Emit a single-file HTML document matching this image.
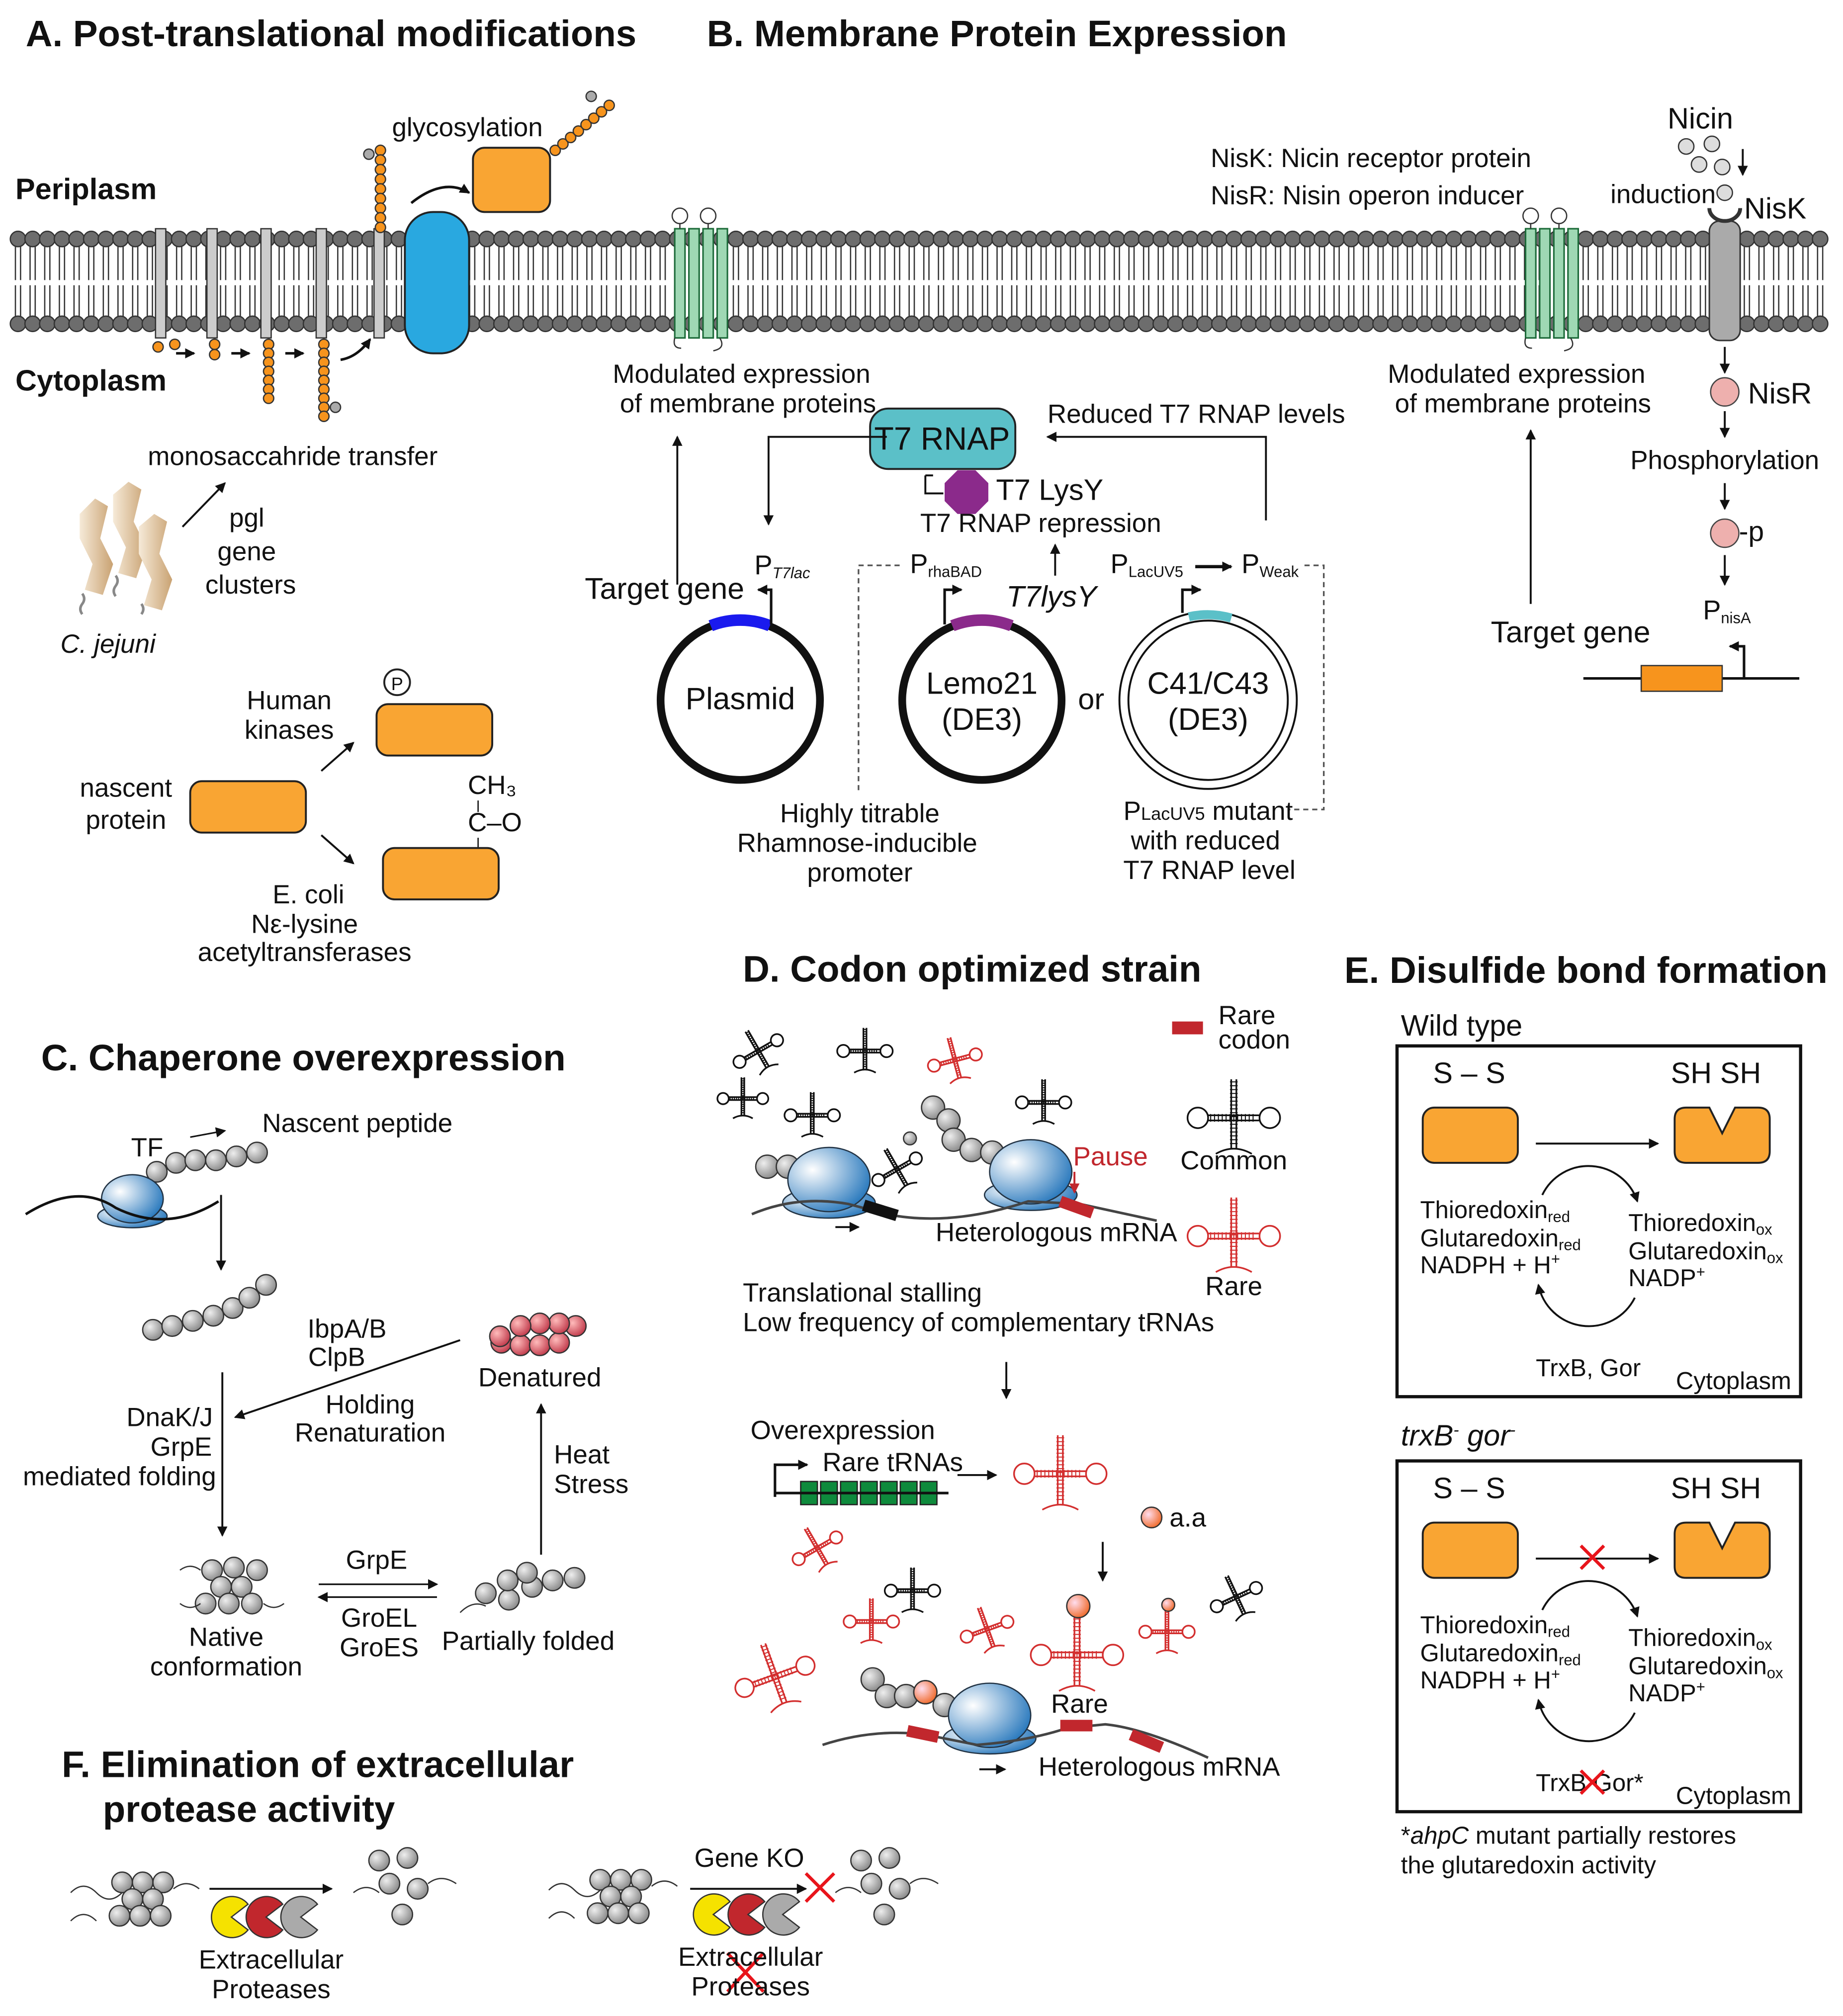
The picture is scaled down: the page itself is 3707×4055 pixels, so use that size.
<!DOCTYPE html>
<html><head><meta charset="utf-8"><style>
html,body{margin:0;padding:0;background:#fff}
svg{display:block}
text{font-family:"Liberation Sans",sans-serif;font-size:20.5px;fill:#111}
.t{font-size:28.8px;font-weight:bold}
.b{font-weight:bold;font-size:23px}
.c{text-anchor:middle}
.sm{font-size:12px}
</style></head><body>
<svg id="s" width="3707" height="4055" viewBox="0 0 1434 1569" preserveAspectRatio="none" xmlns="http://www.w3.org/2000/svg">
<defs>
<marker id="ah" markerWidth="8" markerHeight="8" refX="7" refY="4" orient="auto" markerUnits="userSpaceOnUse"><path d="M0,0 L8,4 L0,8 z" fill="#111"/></marker>
<marker id="ahr" markerWidth="8" markerHeight="8" refX="7" refY="4" orient="auto" markerUnits="userSpaceOnUse"><path d="M0,0 L8,4 L0,8 z" fill="#c1272d"/></marker>
<radialGradient id="rib" cx="0.3" cy="0.35" r="0.8"><stop offset="0" stop-color="#fff"/><stop offset="1" stop-color="#1a6fb8"/></radialGradient>
<radialGradient id="gb" cx="0.35" cy="0.35" r="0.7"><stop offset="0" stop-color="#eee"/><stop offset="1" stop-color="#888"/></radialGradient>
<radialGradient id="rb" cx="0.35" cy="0.35" r="0.7"><stop offset="0" stop-color="#fbb"/><stop offset="1" stop-color="#c0394a"/></radialGradient>
<radialGradient id="ob" cx="0.35" cy="0.35" r="0.7"><stop offset="0" stop-color="#fde"/><stop offset="1" stop-color="#f06a2a"/></radialGradient>
<linearGradient id="bac" x1="0" x2="1"><stop offset="0" stop-color="#f6ead8"/><stop offset="1" stop-color="#c9a272"/></linearGradient>
</defs>
<g id="mem"></g>
<g id="dyn"></g>

<!-- Titles -->
<text x="20" y="36" class="t">A. Post-translational modifications</text>
<text x="550" y="36" class="t">B. Membrane Protein Expression</text>
<text x="32" y="833" class="t">C. Chaperone overexpression</text>
<text x="578" y="764" class="t">D. Codon optimized strain</text>
<text x="1046" y="765" class="t">E. Disulfide bond formation</text>
<text x="48" y="1383" class="t">F. Elimination of extracellular</text>
<text x="80" y="1418" class="t">protease activity</text>

<!-- A -->
<text x="12" y="155" class="b">Periplasm</text>
<text x="12" y="304" class="b">Cytoplasm</text>
<text x="305" y="106">glycosylation</text>
<rect x="368" y="115" width="60" height="50" rx="9" fill="#f9a533" stroke="#222" stroke-width="1.5"/>
<path d="M320,158 Q345,138 365,150" fill="none" stroke="#111" stroke-width="2" marker-end="url(#ah)"/>
<rect x="315" y="165" width="50" height="110" rx="22" fill="#29a8e0" stroke="#222" stroke-width="1.5"/>
<path d="M265,280 Q278,278 288,264" fill="none" stroke="#111" stroke-width="2" marker-end="url(#ah)"/>
<line x1="137" y1="275" x2="151" y2="275" stroke="#111" stroke-width="2" marker-end="url(#ah)"/>
<line x1="180" y1="275" x2="194" y2="275" stroke="#111" stroke-width="2" marker-end="url(#ah)"/>
<line x1="222" y1="275" x2="236" y2="275" stroke="#111" stroke-width="2" marker-end="url(#ah)"/>
<text x="115" y="362">monosaccahride transfer</text>
<line x1="142" y1="410" x2="175" y2="376" stroke="#111" stroke-width="1.5" marker-end="url(#ah)"/>
<text x="192" y="410" class="c">pgl</text>
<text x="192" y="436" class="c">gene</text>
<text x="195" y="462" class="c">clusters</text>
<text x="47" y="508" style="font-style:italic">C. jejuni</text>
<g fill="url(#bac)">
<path d="M62,400 l12,-12 l10,6 l-6,25 l10,20 l-8,24 l-14,-4 l6,-20 l-10,-20z"/>
<path d="M88,385 l12,-10 l10,6 l-6,25 l10,20 l-8,24 l-14,-4 l6,-20 l-10,-20z"/>
<path d="M108,410 l12,-10 l10,6 l-6,25 l10,20 l-8,24 l-14,-4 l6,-20 l-10,-20z"/>
</g>
<path d="M64,462 q3,4 0,8 q-3,4 0,8 M90,448 q3,4 0,8 q-3,4 0,8 M110,470 q3,4 0,8" stroke="#888" stroke-width="2" fill="none"/>
<text x="225" y="552" class="c">Human</text>
<text x="225" y="575" class="c">kinases</text>
<circle cx="309" cy="531" r="10" fill="#fff" stroke="#222" stroke-width="1.5"/>
<text x="309" y="537" class="c" style="font-size:14px">P</text>
<rect x="293" y="548" width="90" height="40" rx="9" fill="#f9a533" stroke="#222" stroke-width="1.5"/>
<text x="98" y="620" class="c">nascent</text>
<text x="98" y="645" class="c">protein</text>
<rect x="148" y="608" width="90" height="40" rx="9" fill="#f9a533" stroke="#222" stroke-width="1.5"/>
<line x1="250" y1="600" x2="275" y2="578" stroke="#111" stroke-width="1.5" marker-end="url(#ah)"/>
<line x1="250" y1="650" x2="275" y2="672" stroke="#111" stroke-width="1.5" marker-end="url(#ah)"/>
<text x="364" y="618">CH₃</text>
<line x1="372" y1="623" x2="372" y2="632" stroke="#111"/>
<text x="364" y="647">C–O</text>
<line x1="372" y1="652" x2="372" y2="660" stroke="#111"/>
<rect x="298" y="660" width="90" height="40" rx="9" fill="#f9a533" stroke="#222" stroke-width="1.5"/>
<text x="240" y="703" class="c">E. coli</text>
<text x="237" y="726" class="c">Nε-lysine</text>
<text x="237" y="748" class="c">acetyltransferases</text>

<!-- B -->
<text x="577" y="298" class="c">Modulated expression</text>
<text x="582" y="321" class="c">of membrane proteins</text>
<line x1="527" y1="455" x2="527" y2="340" stroke="#111" stroke-width="1.5" marker-end="url(#ah)"/>
<rect x="677" y="318" width="113" height="47" rx="14" fill="#5bc0c8" stroke="#222" stroke-width="1.5"/>
<text x="733" y="350" class="c" style="font-size:25px">T7 RNAP</text>
<polygon points="745,366 759,366 769,376 769,390 759,400 745,400 735,390 735,376" fill="#8b2a8b"/>
<path d="M720,370 v14 h14" fill="none" stroke="#111" stroke-width="1.5"/>
<line x1="720" y1="370" x2="726" y2="370" stroke="#111" stroke-width="1.5"/>
<text x="775" y="389" style="font-size:23px">T7 LysY</text>
<text x="716" y="414">T7 RNAP repression</text>
<text x="815" y="329">Reduced T7 RNAP levels</text>
<path d="M985,405 V340 H815" fill="none" stroke="#111" stroke-width="1.5" marker-end="url(#ah)"/>
<path d="M690,340 H598 V408" fill="none" stroke="#111" stroke-width="1.5" marker-end="url(#ah)"/>
<line x1="821" y1="448" x2="821" y2="424" stroke="#111" stroke-width="1.5" marker-end="url(#ah)"/>
<circle cx="576" cy="545" r="62" fill="none" stroke="#111" stroke-width="6"/>
<path d="M553,487 A62,62 0 0 1 599,487" fill="none" stroke="#1a1aee" stroke-width="9"/>
<text x="576" y="552" class="c" style="font-size:24px">Plasmid</text>
<text x="455" y="466" style="font-size:23.5px">Target gene</text>
<path d="M600,486 V459 H590" fill="none" stroke="#111" stroke-width="2" marker-end="url(#ah)"/>
<text x="587" y="447" style="font-size:21px">P<tspan class="sm" font-style="italic" dy="3">T7lac</tspan></text>
<circle cx="764" cy="545" r="62" fill="none" stroke="#111" stroke-width="6"/>
<path d="M741,487 A62,62 0 0 1 787,487" fill="none" stroke="#8b2a8b" stroke-width="9"/>
<text x="764" y="540" class="c" style="font-size:24px">Lemo21</text>
<text x="764" y="568" class="c" style="font-size:24px">(DE3)</text>
<path d="M735,486 V459 H748" fill="none" stroke="#111" stroke-width="2" marker-end="url(#ah)"/>
<text x="708" y="446" style="font-size:21px">P<tspan class="sm" dy="3">rhaBAD</tspan></text>
<text x="783" y="472" style="font-size:23px;font-style:italic">T7lysY</text>
<text x="849" y="552" class="c" style="font-size:23px">or</text>
<circle cx="940" cy="545" r="69" fill="none" stroke="#111" stroke-width="1.5"/>
<circle cx="940" cy="545" r="62" fill="none" stroke="#111" stroke-width="1.5"/>
<path d="M925,480 A66,66 0 0 1 958,481" fill="none" stroke="#5bc0c8" stroke-width="7"/>
<text x="940" y="540" class="c" style="font-size:24px">C41/C43</text>
<text x="940" y="568" class="c" style="font-size:24px">(DE3)</text>
<path d="M920,477 V459 H934" fill="none" stroke="#111" stroke-width="2" marker-end="url(#ah)"/>
<text x="864" y="446" style="font-size:21px">P<tspan class="sm" dy="3">LacUV5</tspan></text>
<line x1="930" y1="441" x2="958" y2="441" stroke="#111" stroke-width="2.5" marker-end="url(#ah)"/>
<text x="966" y="446" style="font-size:21px">P<tspan class="sm" dy="3">Weak</tspan></text>
<path d="M700,440 H668 V615" fill="none" stroke="#555" stroke-width="1.3" stroke-dasharray="4,3"/>
<path d="M1015,440 H1030 V630 H1002" fill="none" stroke="#555" stroke-width="1.3" stroke-dasharray="4,3"/>
<text x="669" y="640" class="c">Highly titrable</text>
<text x="667" y="663" class="c">Rhamnose-inducible</text>
<text x="669" y="686" class="c">promoter</text>
<text x="940" y="638" class="c">P<tspan style="font-size:14px">LacUV5</tspan> mutant</text>
<text x="938" y="661" class="c">with reduced</text>
<text x="941" y="684" class="c">T7 RNAP level</text>
<text x="1323" y="100" class="c" style="font-size:23px">Nicin</text>
<text x="942" y="130">NisK: Nicin receptor protein</text>
<text x="942" y="159">NisR: Nisin operon inducer</text>
<text x="1253" y="158">induction</text>
<text x="1357" y="170" style="font-size:23px">NisK</text>
<line x1="1356" y1="116" x2="1356" y2="136" stroke="#111" stroke-width="1.5" marker-end="url(#ah)"/>
<rect x="1330" y="172" width="24" height="93" rx="8" fill="#aaa" stroke="#333" stroke-width="1.2"/>
<path d="M1330,162 a12,10 0 0 0 24,0" fill="none" stroke="#333" stroke-width="3"/>
<circle cx="1342" cy="150" r="6" fill="#ddd" stroke="#333"/>
<text x="1180" y="298" class="c">Modulated expression</text>
<text x="1185" y="321" class="c">of membrane proteins</text>
<line x1="1191" y1="470" x2="1191" y2="335" stroke="#111" stroke-width="1.5" marker-end="url(#ah)"/>
<line x1="1342" y1="270" x2="1342" y2="290" stroke="#111" stroke-width="1.5" marker-end="url(#ah)"/>
<circle cx="1342" cy="305" r="11" fill="#eeb0ae" stroke="#444"/>
<text x="1360" y="314" style="font-size:23px">NisR</text>
<line x1="1342" y1="320" x2="1342" y2="340" stroke="#111" stroke-width="1.5" marker-end="url(#ah)"/>
<text x="1342" y="365" class="c">Phosphorylation</text>
<line x1="1342" y1="376" x2="1342" y2="396" stroke="#111" stroke-width="1.5" marker-end="url(#ah)"/>
<circle cx="1342" cy="415" r="11" fill="#eeb0ae" stroke="#444"/>
<text x="1353" y="421" style="font-size:22px">-p</text>
<line x1="1342" y1="432" x2="1342" y2="455" stroke="#111" stroke-width="1.5" marker-end="url(#ah)"/>
<text x="1325" y="482" style="font-size:21px">P<tspan class="sm" dy="3">nisA</tspan></text>
<text x="1160" y="500" style="font-size:23.5px">Target gene</text>
<line x1="1232" y1="528" x2="1400" y2="528" stroke="#111" stroke-width="2"/>
<rect x="1277" y="518" width="63" height="20" fill="#f7941d" stroke="#333"/>
<path d="M1357,528 V503 H1346" fill="none" stroke="#111" stroke-width="2" marker-end="url(#ah)"/>

<!-- D -->
<rect x="912" y="795" width="24" height="10" fill="#c1272d"/>
<text x="948" y="797">Rare</text>
<text x="948" y="816">codon</text>
<text x="960" y="910" class="c">Common</text>
<text x="960" y="1008" class="c">Rare</text>
<path d="M585,945 Q620,930 660,937 L690,945 Q740,955 800,935 L840,937 L900,950" fill="none" stroke="#444" stroke-width="2"/>
<line x1="672" y1="938" x2="698" y2="946" stroke="#111" stroke-width="9"/>
<line x1="825" y1="935" x2="850" y2="944" stroke="#c1272d" stroke-width="9"/>
<text x="835" y="907" style="fill:#c1272d">Pause</text>
<line x1="836" y1="912" x2="836" y2="928" stroke="#c1272d" stroke-width="1.5" marker-end="url(#ahr)"/>
<line x1="650" y1="955" x2="668" y2="955" stroke="#111" stroke-width="1.5" marker-end="url(#ah)"/>
<text x="728" y="966">Heterologous mRNA</text>
<text x="578" y="1013">Translational stalling</text>
<text x="578" y="1036">Low frequency of complementary tRNAs</text>
<line x1="783" y1="1060" x2="783" y2="1088" stroke="#111" stroke-width="1.5" marker-end="url(#ah)"/>
<text x="584" y="1120">Overexpression</text>
<text x="640" y="1145">Rare tRNAs</text>
<path d="M603,1165 V1140 H628" fill="none" stroke="#111" stroke-width="2" marker-end="url(#ah)"/>
<line x1="603" y1="1162" x2="738" y2="1162" stroke="#111" stroke-width="2"/>
<line x1="745" y1="1148" x2="775" y2="1148" stroke="#111" stroke-width="1.5" marker-end="url(#ah)"/>
<circle cx="896" cy="1181" r="8" fill="url(#ob)" stroke="#333"/>
<text x="910" y="1188">a.a</text>
<line x1="858" y1="1200" x2="858" y2="1230" stroke="#111" stroke-width="1.5" marker-end="url(#ah)"/>
<path d="M640,1358 Q680,1345 720,1350 L760,1358 Q800,1355 830,1345 L860,1342 Q890,1345 940,1368" fill="none" stroke="#444" stroke-width="2"/>
<line x1="706" y1="1347" x2="730" y2="1352" stroke="#c1272d" stroke-width="9"/>
<line x1="825" y1="1343" x2="850" y2="1343" stroke="#c1272d" stroke-width="9"/>
<line x1="880" y1="1350" x2="904" y2="1360" stroke="#c1272d" stroke-width="9"/>
<text x="840" y="1333" class="c">Rare</text>
<line x1="762" y1="1377" x2="782" y2="1377" stroke="#111" stroke-width="1.5" marker-end="url(#ah)"/>
<text x="808" y="1382">Heterologous mRNA</text>

<!-- E -->
<text x="1090" y="806" style="font-size:23px">Wild type</text>
<text x="1090" y="1125" style="font-size:23px;font-style:italic">trxB<tspan dy="-8" style="font-size:13px">-</tspan><tspan dy="8"> gor</tspan><tspan dy="-8" style="font-size:13px">-</tspan></text>
<g id="ebox">
<rect x="1087" y="814" width="314" height="273" fill="none" stroke="#111" stroke-width="2.5"/>
<text x="1115" y="843" style="font-size:23px">S – S</text>
<text x="1300" y="843" style="font-size:23px">SH  SH</text>
<rect x="1107" y="862" width="74" height="43" rx="9" fill="#f9a533" stroke="#222" stroke-width="1.5"/>
<path d="M1312,862 H1330 L1340,882 L1350,862 H1368 Q1377,862 1377,871 V896 Q1377,905 1368,905 H1312 Q1303,905 1303,896 V871 Q1303,862 1312,862z" fill="#f9a533" stroke="#222" stroke-width="1.5"/>
<line x1="1195" y1="890" x2="1290" y2="890" stroke="#111" stroke-width="1.5" marker-end="url(#ah)"/>
<path d="M1200,930 A40,40 0 0 1 1274,935" fill="none" stroke="#111" stroke-width="1.5" marker-end="url(#ah)"/>
<path d="M1272,1010 A40,40 0 0 1 1197,1000" fill="none" stroke="#111" stroke-width="1.5" marker-end="url(#ah)"/>
<text x="1105" y="948" style="font-size:19px">Thioredoxin<tspan class="sm" dy="3">red</tspan></text>
<text x="1105" y="970" style="font-size:19px">Glutaredoxin<tspan class="sm" dy="3">red</tspan></text>
<text x="1105" y="991" style="font-size:19px">NADPH + H<tspan class="sm" dy="-7">+</tspan></text>
<text x="1267" y="958" style="font-size:19px">Thioredoxin<tspan class="sm" dy="3">ox</tspan></text>
<text x="1267" y="980" style="font-size:19px">Glutaredoxin<tspan class="sm" dy="3">ox</tspan></text>
<text x="1267" y="1001" style="font-size:19px">NADP<tspan class="sm" dy="-7">+</tspan></text>
<text x="1304" y="1081" style="font-size:19px">Cytoplasm</text>
</g>
<text x="1195" y="1071" style="font-size:19px">TrxB, Gor</text>
<use href="#ebox" transform="translate(0,323)"/>
<text x="1195" y="1394" style="font-size:19px">TrxB Gor*</text>
<path d="M1230,1203 l18,18 M1248,1203 l-18,18 M1230,1378 l18,18 M1248,1378 l-18,18" stroke="#e8141b" stroke-width="2.5"/>
<text x="1090" y="1435" style="font-size:19px">*<tspan font-style="italic">ahpC</tspan> mutant partially restores</text>
<text x="1090" y="1458" style="font-size:19px">the glutaredoxin activity</text>

<!-- C -->
<text x="102" y="900">TF</text>
<line x1="148" y1="885" x2="175" y2="880" stroke="#111" stroke-width="1.2" marker-end="url(#ah)"/>
<text x="204" y="881">Nascent peptide</text>
<path d="M20,945 Q60,920 90,940 Q130,960 170,935" fill="none" stroke="#111" stroke-width="2"/>
<line x1="172" y1="930" x2="172" y2="988" stroke="#111" stroke-width="1.5" marker-end="url(#ah)"/>
<text x="270" y="1041" class="c">IbpA/B</text>
<text x="262" y="1063" class="c">ClpB</text>
<text x="288" y="1100" class="c">Holding</text>
<text x="288" y="1122" class="c">Renaturation</text>
<line x1="358" y1="1043" x2="183" y2="1103" stroke="#111" stroke-width="1.5" marker-end="url(#ah)"/>
<text x="420" y="1079" class="c">Denatured</text>
<text x="132" y="1110" class="c">DnaK/J</text>
<text x="141" y="1133" class="c">GrpE</text>
<text x="93" y="1156" class="c">mediated folding</text>
<line x1="173" y1="1068" x2="173" y2="1195" stroke="#111" stroke-width="1.5" marker-end="url(#ah)"/>
<text x="176" y="1281" class="c">Native</text>
<text x="176" y="1304" class="c">conformation</text>
<text x="293" y="1221" class="c">GrpE</text>
<line x1="248" y1="1233" x2="340" y2="1233" stroke="#111" stroke-width="1.3" marker-end="url(#ah)"/>
<line x1="340" y1="1243" x2="248" y2="1243" stroke="#111" stroke-width="1.3" marker-end="url(#ah)"/>
<text x="295" y="1266" class="c">GroEL</text>
<text x="295" y="1289" class="c">GroES</text>
<text x="411" y="1284" class="c">Partially folded</text>
<text x="431" y="1139">Heat</text>
<text x="431" y="1162">Stress</text>
<line x1="421" y1="1210" x2="421" y2="1093" stroke="#111" stroke-width="1.5" marker-end="url(#ah)"/>

<!-- F -->
<line x1="163" y1="1470" x2="258" y2="1470" stroke="#111" stroke-width="1.5" marker-end="url(#ah)"/>
<text x="211" y="1532" class="c">Extracellular</text>
<text x="211" y="1555" class="c">Proteases</text>
<text x="583" y="1453" class="c">Gene KO</text>
<line x1="537" y1="1470" x2="627" y2="1470" stroke="#111" stroke-width="1.5" marker-end="url(#ah)"/>
<path d="M627,1458 l22,22 M649,1458 l-22,22 M566,1520 l28,30 M594,1520 l-28,30" stroke="#e8141b" stroke-width="2.5"/>
<text x="584" y="1530" class="c">Extracellular</text>
<text x="584" y="1553" class="c">Proteases</text>
</svg>
<script>
const NS="http://www.w3.org/2000/svg";
const mem=document.getElementById('mem'),dyn=document.getElementById('dyn');
function el(p,tag,a){const e=document.createElementNS(NS,tag);for(const k in a)e.setAttribute(k,a[k]);p.appendChild(e);return e;}
for(let x=14;x<1425;x+=11.4){
 el(mem,'line',{x1:x-2,y1:192,x2:x-2,y2:218,stroke:'#333','stroke-width':1});
 el(mem,'line',{x1:x+2,y1:192,x2:x+2,y2:218,stroke:'#333','stroke-width':1});
 el(mem,'line',{x1:x-2,y1:222,x2:x-2,y2:246,stroke:'#333','stroke-width':1});
 el(mem,'line',{x1:x+2,y1:222,x2:x+2,y2:246,stroke:'#333','stroke-width':1});
 el(mem,'circle',{cx:x,cy:186,r:6,fill:'#6d6d6d',stroke:'#333','stroke-width':1});
 el(mem,'circle',{cx:x,cy:252,r:6,fill:'#6d6d6d',stroke:'#333','stroke-width':1});
}
[125,165,207,250,295].forEach(x=>el(mem,'rect',{x:x-4,y:178,width:8,height:85,fill:'#ccc',stroke:'#333','stroke-width':1}));
function helices(x0){for(let i=0;i<4;i++)el(mem,'rect',{x:x0+i*11,y:178,width:8,height:85,fill:'#9fd8b4',stroke:'#1d6b3a','stroke-width':1.2});
 el(mem,'circle',{cx:x0+4,cy:168,r:6,fill:'#fff',stroke:'#333'});el(mem,'circle',{cx:x0+26,cy:168,r:6,fill:'#fff',stroke:'#333'});
 el(mem,'path',{d:`M${x0+4},174 v4 M${x0+26},174 v4 M${x0+35},263 q5,8 -5,10 M${x0},263 q-2,8 5,8`,stroke:'#333',fill:'none'});}
helices(525);helices(1187);
function beads(list,r,fill,stroke){list.forEach(p=>el(dyn,'circle',{cx:p[0],cy:p[1],r:r,fill:fill,stroke:stroke||'#333','stroke-width':1}));}
const OR='#f7941d';
let a=[];for(let i=0;i<9;i++)a.push([296,117+i*7.5]);beads(a,4,OR);
a=[];for(let i=0;i<8;i++)a.push([432+i*6,117-i*5]);beads(a,4,OR);beads([[460,75]],4,'#aaa');beads([[287,120]],4,'#aaa');
beads([[123,270],[136,268],[167,268],[167,276]],4,OR);
a=[];for(let i=0;i<7;i++)a.push([209,268+i*7]);beads(a,4,OR);
a=[];for(let i=0;i<9;i++)a.push([252,268+i*7]);beads(a,4,OR);beads([[261,317]],4,'#aaa');
function trna(x,y,col,s,rot){const g=el(dyn,'g',{transform:`translate(${x},${y}) rotate(${rot||0}) scale(${s})`,stroke:col,fill:'none','stroke-width':1.3/s});
 el(g,'circle',{cx:-28,cy:0,r:8,fill:'#fff'});el(g,'circle',{cx:28,cy:0,r:8,fill:'#fff'});
 el(g,'path',{d:'M-20,-2 H20 M-20,2 H20 M-2,-30 V24 M2,-30 V24 M-14,28 Q0,20 14,28'});
 let d='';for(let t=-28;t<22;t+=3)d+=`M-3,${t} H3 `;for(let t=-18;t<18;t+=3)d+=`M${t},-3 V3 `;el(g,'path',{d:d,'stroke-width':0.8/s});}
const K='#111',R='#d32f2f';
trna(590,818,K,0.6,-30);trna(673,818,K,0.6,0);trna(743,825,R,0.6,-15);trna(578,855,K,0.55,0);trna(632,868,K,0.6,0);trna(812,858,K,0.6,0);trna(698,910,K,0.6,-30);beads([[708,886]],5,'url(#gb)');
trna(960,870,K,1,0);trna(960,962,R,1,0);
trna(825,1147,R,1,0);trna(636,1205,R,0.6,-30);trna(710,1238,K,0.6,0);trna(678,1262,R,0.6,0);trna(768,1268,R,0.6,-20);trna(908,1270,R,0.6,0);beads([[909,1249]],5,'url(#ob)');trna(962,1243,K,0.6,-25);trna(838,1288,R,1,0);beads([[839,1250]],9,'url(#ob)');trna(603,1305,R,0.9,-20);
for(let i=0;i<7;i++)el(dyn,'rect',{x:623+i*15.5,y:1153,width:13,height:18,fill:'#0e8a3c',stroke:'#222','stroke-width':1});
function ribo(x,y,s){el(dyn,'ellipse',{cx:x,cy:y+18*s,rx:36*s,ry:12*s,fill:'url(#rib)',stroke:'#234','stroke-width':1});el(dyn,'ellipse',{cx:x,cy:y,rx:32*s,ry:25*s,fill:'url(#rib)',stroke:'#234','stroke-width':1});}
beads([[597,908],[613,908]],9,'url(#gb)');ribo(645,918,1);
beads([[726,862],[738,872],[742,887],[756,895],[772,897]],9,'url(#gb)');ribo(802,912,1);
beads([[679,1307],[690,1320],[705,1320],[720,1317],[735,1327]],9,'url(#gb)');el(dyn,'circle',{cx:720,cy:1317,r:9,fill:'url(#ob)',stroke:'#333'});ribo(770,1335,1);
beads([[122,912],[137,905],[152,903],[168,903],[184,900],[200,897]],8,'url(#gb)');
ribo(103,933,0.75);
beads([[119,1035],[134,1032],[150,1028],[166,1024],[181,1018],[194,1010],[207,1000]],8,'url(#gb)');
beads([[390,1045],[405,1047],[420,1047],[435,1045],[448,1032],[435,1030],[420,1030],[405,1032],[389,1040]],8,'url(#rb)');
beads([[165,1222],[182,1220],[200,1222],[172,1235],[188,1235],[160,1248],[178,1248],[196,1248]],8,'url(#gb)');
el(dyn,'path',{d:'M140,1222 q8,-6 16,0 M140,1248 q8,6 16,0 M205,1248 q8,6 16,0',stroke:'#333',fill:'none'});
beads([[378,1240],[396,1245],[414,1235],[430,1230],[447,1228],[410,1224],[395,1230]],8,'url(#gb)');
el(dyn,'path',{d:'M358,1255 q10,-10 20,-5',stroke:'#333',fill:'none'});
function clus(x,y){beads([[x,y],[x+16,y],[x+32,y],[x+8,y+13],[x+24,y+13],[x-2,y+26],[x+14,y+26],[x+30,y+26]],8,'url(#gb)');
 el(dyn,'path',{d:`M${x-40},${y+8} q10,-10 20,0 t20,0 M${x-40},${y+30} q10,-10 20,0 M${x+40},${y+5} q10,-8 20,0`,stroke:'#333',fill:'none'});}
clus(95,1465);clus(467,1463);
function free(x,y){beads([[x,y],[x+22,y-2],[x+8,y+18],[x+30,y+22],[x+18,y+42]],8,'url(#gb)');el(dyn,'path',{d:`M${x-20},${y+25} q10,-8 20,0 M${x+38},${y+18} q10,-8 22,0`,stroke:'#333',fill:'none'});}
free(295,1448);free(670,1448);
function pac(x,y,c){el(dyn,'path',{d:`M${x},${y} L${x+13},${y-10} A16,16 0 1 0 ${x+13},${y+10} Z`,fill:c,stroke:'#333','stroke-width':1});}
function pacs(x,y){pac(x,y,'#f5e200');pac(x+27,y,'#c1272d');pac(x+54,y,'#aaa');}
pacs(180,1492);pacs(555,1490);
beads([[1312,114],[1332,112],[1322,128],[1340,130]],6,'#ddd');
</script>
</body></html>
